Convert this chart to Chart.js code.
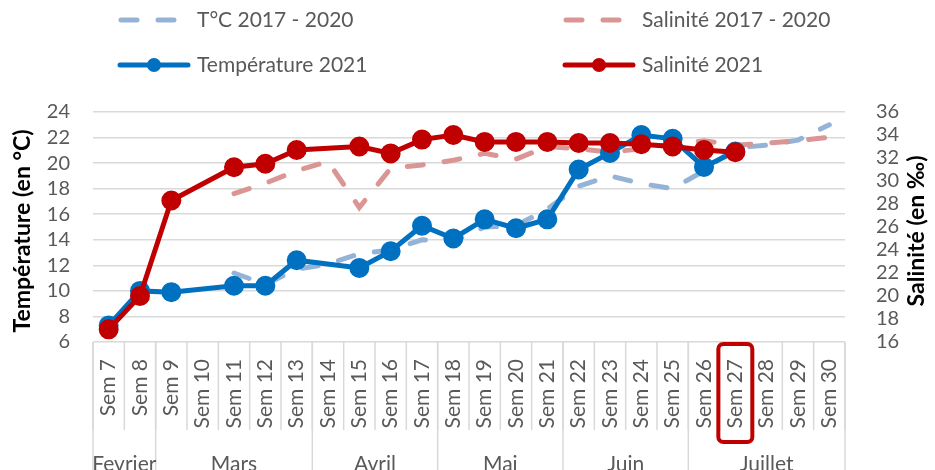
<!DOCTYPE html>
<html>
<head>
<meta charset="utf-8">
<script src="https://cdn.jsdelivr.net/npm/chart.js@4.4.0/dist/chart.umd.min.js"></script>
<style>
  html, body { margin: 0; padding: 0; background: #fff; }
  #wrap { width: 935px; height: 470px; position: relative; }
</style>
</head>
<body>
<div id="wrap"><canvas id="chart" width="935" height="470"></canvas></div>
<script>
// ---- data ----
const weeks = ['Sem 7', 'Sem 8', 'Sem 9', 'Sem 10', 'Sem 11', 'Sem 12', 'Sem 13', 'Sem 14',
  'Sem 15', 'Sem 16', 'Sem 17', 'Sem 18', 'Sem 19', 'Sem 20', 'Sem 21', 'Sem 22',
  'Sem 23', 'Sem 24', 'Sem 25', 'Sem 26', 'Sem 27', 'Sem 28', 'Sem 29', 'Sem 30'];
const monthNames = ['Fevrier', 'Mars', 'Avril', 'Mai', 'Juin', 'Juillet'];
const monthSpans = [2, 5, 4, 4, 4, 5];   // weeks per month
const highlightWeek = 'Sem 27';

const tempRef = [null, null, null, null, 11.4, 10.5, 11.7, 12.1, 12.9, 13.2, 14.0, 13.9,
  15.0, 15.1, 16.4, 18.2, 19.0, 18.4, 18.0, 19.4, 21.2, 21.4, 21.8, 23.0];
const salRef = [null, null, null, null, 28.9, 29.8, 30.9, 31.7, 27.7, 31.1, 31.4, 31.8,
  32.4, 31.9, 33.0, 32.8, 32.5, 32.8, 33.2, 33.5, 33.1, 33.3, 33.5, 33.8];
const temp2021 = [7.3, 10.0, 9.9, null, 10.4, 10.4, 12.4, null, 11.8, 13.1, 15.1, 14.1,
  15.6, 14.9, 15.6, 19.5, 20.8, 22.2, 21.9, 19.7, 20.9, null, null, null];
const sal2021 = [17.1, 20.0, 28.3, null, 31.2, 31.5, 32.7, null, 33.0, 32.4, 33.6, 34.0,
  33.4, 33.4, 33.4, 33.3, 33.3, 33.2, 33.0, 32.7, 32.5, null, null, null];

const tempTicks = [6, 8, 10, 12, 14, 16, 18, 20, 22, 24];
const salTicks = [16, 18, 20, 22, 24, 26, 28, 30, 32, 34, 36];

const FONT = 'Lato, "Liberation Sans", sans-serif';
const BLUE = '#0070c0', RED = '#c00000';
const BLUE_LIGHT = '#95b3d7', RED_LIGHT = '#da9694';
const GRID = '#d9d9d9', TXT = '#595959';

// legend, axis titles, month rows, red box
const extras = {
  id: 'extras',
  afterDraw(chart) {
    const ctx = chart.ctx;
    const x = chart.scales.x;
    const area = chart.chartArea;
    const H = chart.height;
    const n = weeks.length;
    const edge = i => i <= 0 ? x.left : i >= n ? x.right
      : (x.getPixelForValue(i - 1) + x.getPixelForValue(i)) / 2;

    ctx.save();
    // week separators under the axis
    ctx.strokeStyle = GRID;
    ctx.lineWidth = 1.5;
    for (let i = 0; i <= n; i++) {
      ctx.beginPath();
      ctx.moveTo(edge(i), area.bottom);
      ctx.lineTo(edge(i), area.bottom + 88);
      ctx.stroke();
    }
    // month separators + labels
    let start = 0;
    ctx.font = '21px ' + FONT;
    ctx.fillStyle = TXT;
    ctx.textAlign = 'center';
    ctx.textBaseline = 'alphabetic';
    ctx.beginPath();
    ctx.moveTo(edge(0), area.bottom);
    ctx.lineTo(edge(0), H);
    ctx.stroke();
    monthNames.forEach((m, k) => {
      const end = start + monthSpans[k];
      ctx.beginPath();
      ctx.moveTo(edge(end), area.bottom);
      ctx.lineTo(edge(end), H);
      ctx.stroke();
      ctx.fillText(m, (edge(start) + edge(end)) / 2, H + 1);
      start = end;
    });

    // red box round the highlighted week label
    const hx = x.getPixelForValue(weeks.indexOf(highlightWeek));
    ctx.strokeStyle = RED;
    ctx.lineWidth = 4;
    ctx.beginPath();
    ctx.roundRect(hx - 17, area.bottom + 2, 34, 98, 5);
    ctx.stroke();

    // axis titles (both read bottom to top)
    ctx.fillStyle = '#000';
    ctx.font = 'bold 23px ' + FONT;
    const midY = (area.top + area.bottom) / 2 + 4;
    ctx.save();
    ctx.translate(23, midY);
    ctx.rotate(-Math.PI / 2);
    ctx.textBaseline = 'middle';
    ctx.fillText('Température (en °C)', 0, 0);
    ctx.restore();
    ctx.save();
    ctx.translate(917, midY);
    ctx.rotate(-Math.PI / 2);
    ctx.textBaseline = 'middle';
    ctx.fillText('Salinité (en ‰)', 0, 0);
    ctx.restore();

    // legend
    const items = [
      { label: 'T°C 2017 - 2020', color: BLUE_LIGHT, dash: true, x: 118, y: 20 },
      { label: 'Salinité 2017 - 2020', color: RED_LIGHT, dash: true, x: 563, y: 20 },
      { label: 'Température 2021', color: BLUE, dash: false, x: 118, y: 65 },
      { label: 'Salinité 2021', color: RED, dash: false, x: 563, y: 65 }
    ];
    ctx.font = '21px ' + FONT;
    ctx.textAlign = 'left';
    ctx.textBaseline = 'middle';
    items.forEach(it => {
      ctx.strokeStyle = it.color;
      ctx.lineWidth = 5;
      ctx.lineCap = 'round';
      if (it.dash) {
        ctx.setLineDash([16, 21]);
        ctx.beginPath();
        ctx.moveTo(it.x + 3, it.y);
        ctx.lineTo(it.x + 58, it.y);
        ctx.stroke();
        ctx.setLineDash([]);
      } else {
        ctx.beginPath();
        ctx.moveTo(it.x + 2, it.y);
        ctx.lineTo(it.x + 70, it.y);
        ctx.stroke();
        ctx.fillStyle = it.color;
        ctx.beginPath();
        ctx.arc(it.x + 36, it.y, 7, 0, Math.PI * 2);
        ctx.fill();
      }
      ctx.fillStyle = TXT;
      ctx.fillText(it.label, it.x + 79, it.y);
    });
    ctx.restore();
  }
};

const solid = (label, data, color, axis, order) => ({
  label, data, yAxisID: axis, order,
  borderColor: color, backgroundColor: color,
  borderWidth: 5, pointRadius: 7.5, pointHoverRadius: 7.5,
  pointBackgroundColor: color, pointBorderColor: color,
  spanGaps: true, tension: 0
});
const dashed = (label, data, color, axis, order) => ({
  label, data, yAxisID: axis, order,
  borderColor: color, backgroundColor: color,
  borderWidth: 5, borderDash: [16, 21], borderCapStyle: 'round',
  pointRadius: 0, spanGaps: true, tension: 0
});

// fixed tick lists for the value axes
const fixedTicks = list => s => { s.ticks = list.map(v => ({ value: v })); };

new Chart(document.getElementById('chart'), {
  type: 'line',
  data: {
    labels: weeks,
    datasets: [
      dashed('T°C 2017 - 2020', tempRef, BLUE_LIGHT, 'y', 3),
      dashed('Salinité 2017 - 2020', salRef, RED_LIGHT, 'y1', 2),
      solid('Température 2021', temp2021, BLUE, 'y', 1),
      solid('Salinité 2021', sal2021, RED, 'y1', 0)
    ]
  },
  options: {
    responsive: false,
    animation: false,
    layout: { padding: { top: 112, left: 0, right: 0, bottom: 0 } },
    plugins: { legend: { display: false }, tooltip: { enabled: false } },
    scales: {
      x: {
        offset: true,
        grid: { display: false },
        border: { display: false },
        ticks: {
          autoSkip: false, minRotation: 90, maxRotation: 90, padding: 9,
          color: TXT, font: { family: FONT, size: 21 }
        },
        afterFit(s) { s.height = 128; }
      },
      y: {
        position: 'left',
        min: tempTicks[0], max: tempTicks[tempTicks.length - 1],
        grid: { color: GRID, lineWidth: 1.5, drawTicks: false },
        border: { display: false },
        ticks: { autoSkip: false, padding: 23, color: TXT, font: { family: FONT, size: 20, lineHeight: 1 } },
        afterBuildTicks: fixedTicks(tempTicks),
        afterFit(s) { s.width = 93; }
      },
      y1: {
        position: 'right',
        min: salTicks[0], max: salTicks[salTicks.length - 1],
        grid: { display: false },
        border: { display: false },
        ticks: { autoSkip: false, padding: 23, color: TXT, font: { family: FONT, size: 20, lineHeight: 1 } },
        afterBuildTicks: fixedTicks(salTicks),
        afterFit(s) { s.width = 90; }
      }
    }
  },
  plugins: [extras]
});
</script>
</body>
</html>
